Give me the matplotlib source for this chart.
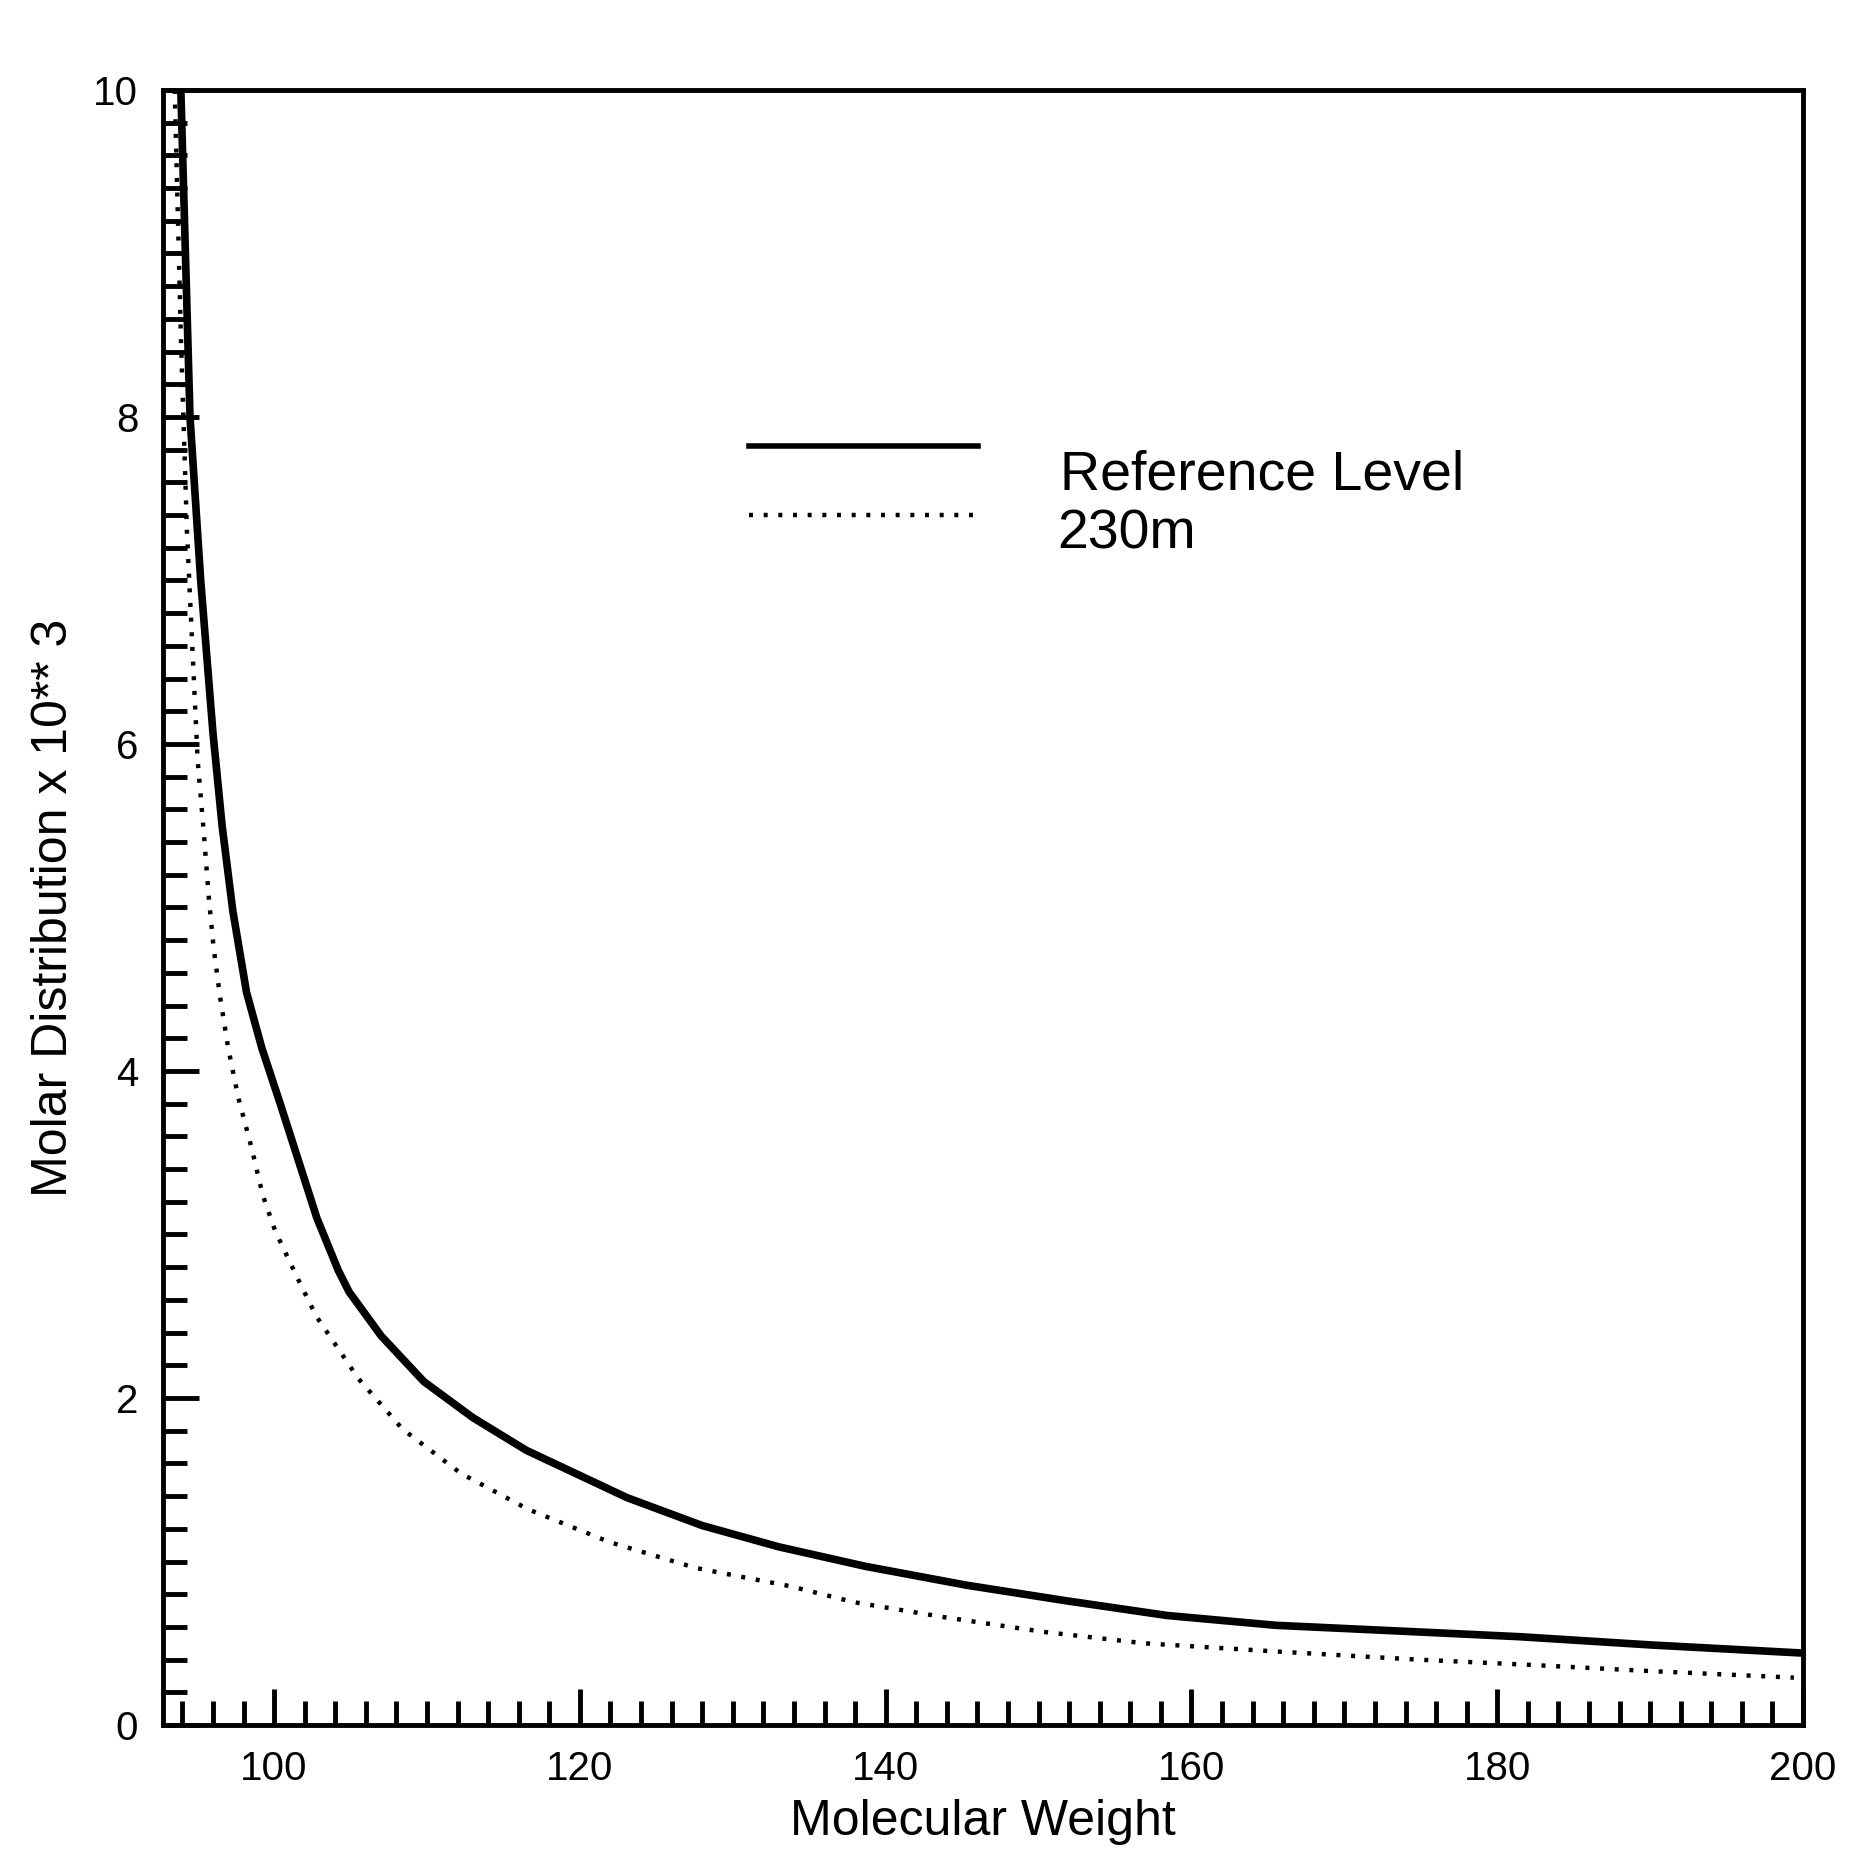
#!/usr/bin/python
"""
Molar distribution vs molecular weight (reference level and 230 m)
"""
import numpy as np
import matplotlib
matplotlib.use('Agg')
import matplotlib.pyplot as plt
import matplotlib as mpl

# values
mw_ref = [93.9, 94.5, 95.2, 96.0, 96.6, 97.3, 98.2, 99.2, 100.4, 101.6, 102.8,
          104.2, 104.9, 107.0, 109.8, 113.0, 116.5, 123.1, 128.0, 133.0, 138.7,
          145.3, 151.8, 158.4, 165.5, 174.7, 181.5, 190.0, 200.0]
md_ref = [10.0, 8.0, 7.0, 6.07, 5.50, 4.98, 4.48, 4.14, 3.80, 3.45, 3.10,
          2.78, 2.65, 2.38, 2.10, 1.88, 1.68, 1.39, 1.22, 1.09, 0.97,
          0.855, 0.76, 0.67, 0.61, 0.57, 0.54, 0.49, 0.44]

mw_230 = [93.5, 93.9, 94.3, 95.0, 95.4, 95.74, 96.05, 96.47, 97.0, 97.65, 98.5,
          99.26, 100.08, 101.6, 102.76, 104.35, 105.5, 108.4, 112.2, 116.6,
          121.9, 127.6, 133.7, 138.0, 143.8, 150.3, 156.9, 165.5, 174.8, 181.7,
          190.0, 199.4]
md_230 = [10.0, 8.5, 7.3, 5.9, 5.46, 5.05, 4.75, 4.45, 4.14, 3.84, 3.54,
          3.24, 3.02, 2.72, 2.5, 2.28, 2.12, 1.81, 1.54, 1.32,
          1.12, 0.96, 0.85, 0.75, 0.66, 0.57, 0.5, 0.45, 0.40, 0.37,
          0.33, 0.29]

x_ticks = [100, 120, 140, 160, 180, 200]
y_ticks = [0, 2, 4, 6, 8, 10]


def main():
    mpl.rcParams['font.family'] = ['Liberation Sans', 'DejaVu Sans']
    mpl.rcParams['font.size'] = 28.

    fig = plt.figure(figsize=(18.55, 18.73), dpi=100)
    ax = fig.add_axes([0.088, 0.079, 0.884, 0.873])

    ax.plot(mw_ref, md_ref, '-', color='black', lw=5.5, solid_capstyle='butt')
    ax.plot(mw_230, md_230, color='black', lw=3.2, linestyle=(0, (0.9, 2.4)))

    ax.set_xlim(92.75, 200)
    ax.set_ylim(0, 10)

    ax.set_xticks(x_ticks)
    ax.set_xticks(np.arange(94, 200, 2), minor=True)
    ax.set_yticks(y_ticks)
    ax.set_yticks(np.arange(0, 10, 0.2), minor=True)
    ax.tick_params(which='both', direction='in', top=False, right=False,
                   width=3.5, color='black')
    ax.tick_params(which='major', length=26, labelsize=29, pad=18)
    ax.tick_params(which='minor', length=17)
    for s in ax.spines.values():
        s.set_linewidth(3.5)

    ax.set_xlabel('Molecular Weight', fontsize=36, labelpad=8)
    ax.set_ylabel('Molar Distribution x 10** 3', fontsize=36, labelpad=12)

    # hand drawn legend
    ax.plot([0.357, 0.497], [0.782, 0.782], '-', color='black', lw=4.0,
            transform=ax.transAxes, clip_on=False)
    ax.plot([0.357, 0.497], [0.740, 0.740], color='black', lw=3.2,
            linestyle=(0, (0.9, 2.4)), transform=ax.transAxes, clip_on=False)
    ax.text(0.547, 0.764, 'Reference Level', fontsize=40, va='center',
            ha='left', transform=ax.transAxes)
    ax.text(0.545, 0.728, '230m', fontsize=40, va='center', ha='left',
            transform=ax.transAxes)

    plt.savefig('out.png', dpi=100)


if __name__ == '__main__':
    main()
